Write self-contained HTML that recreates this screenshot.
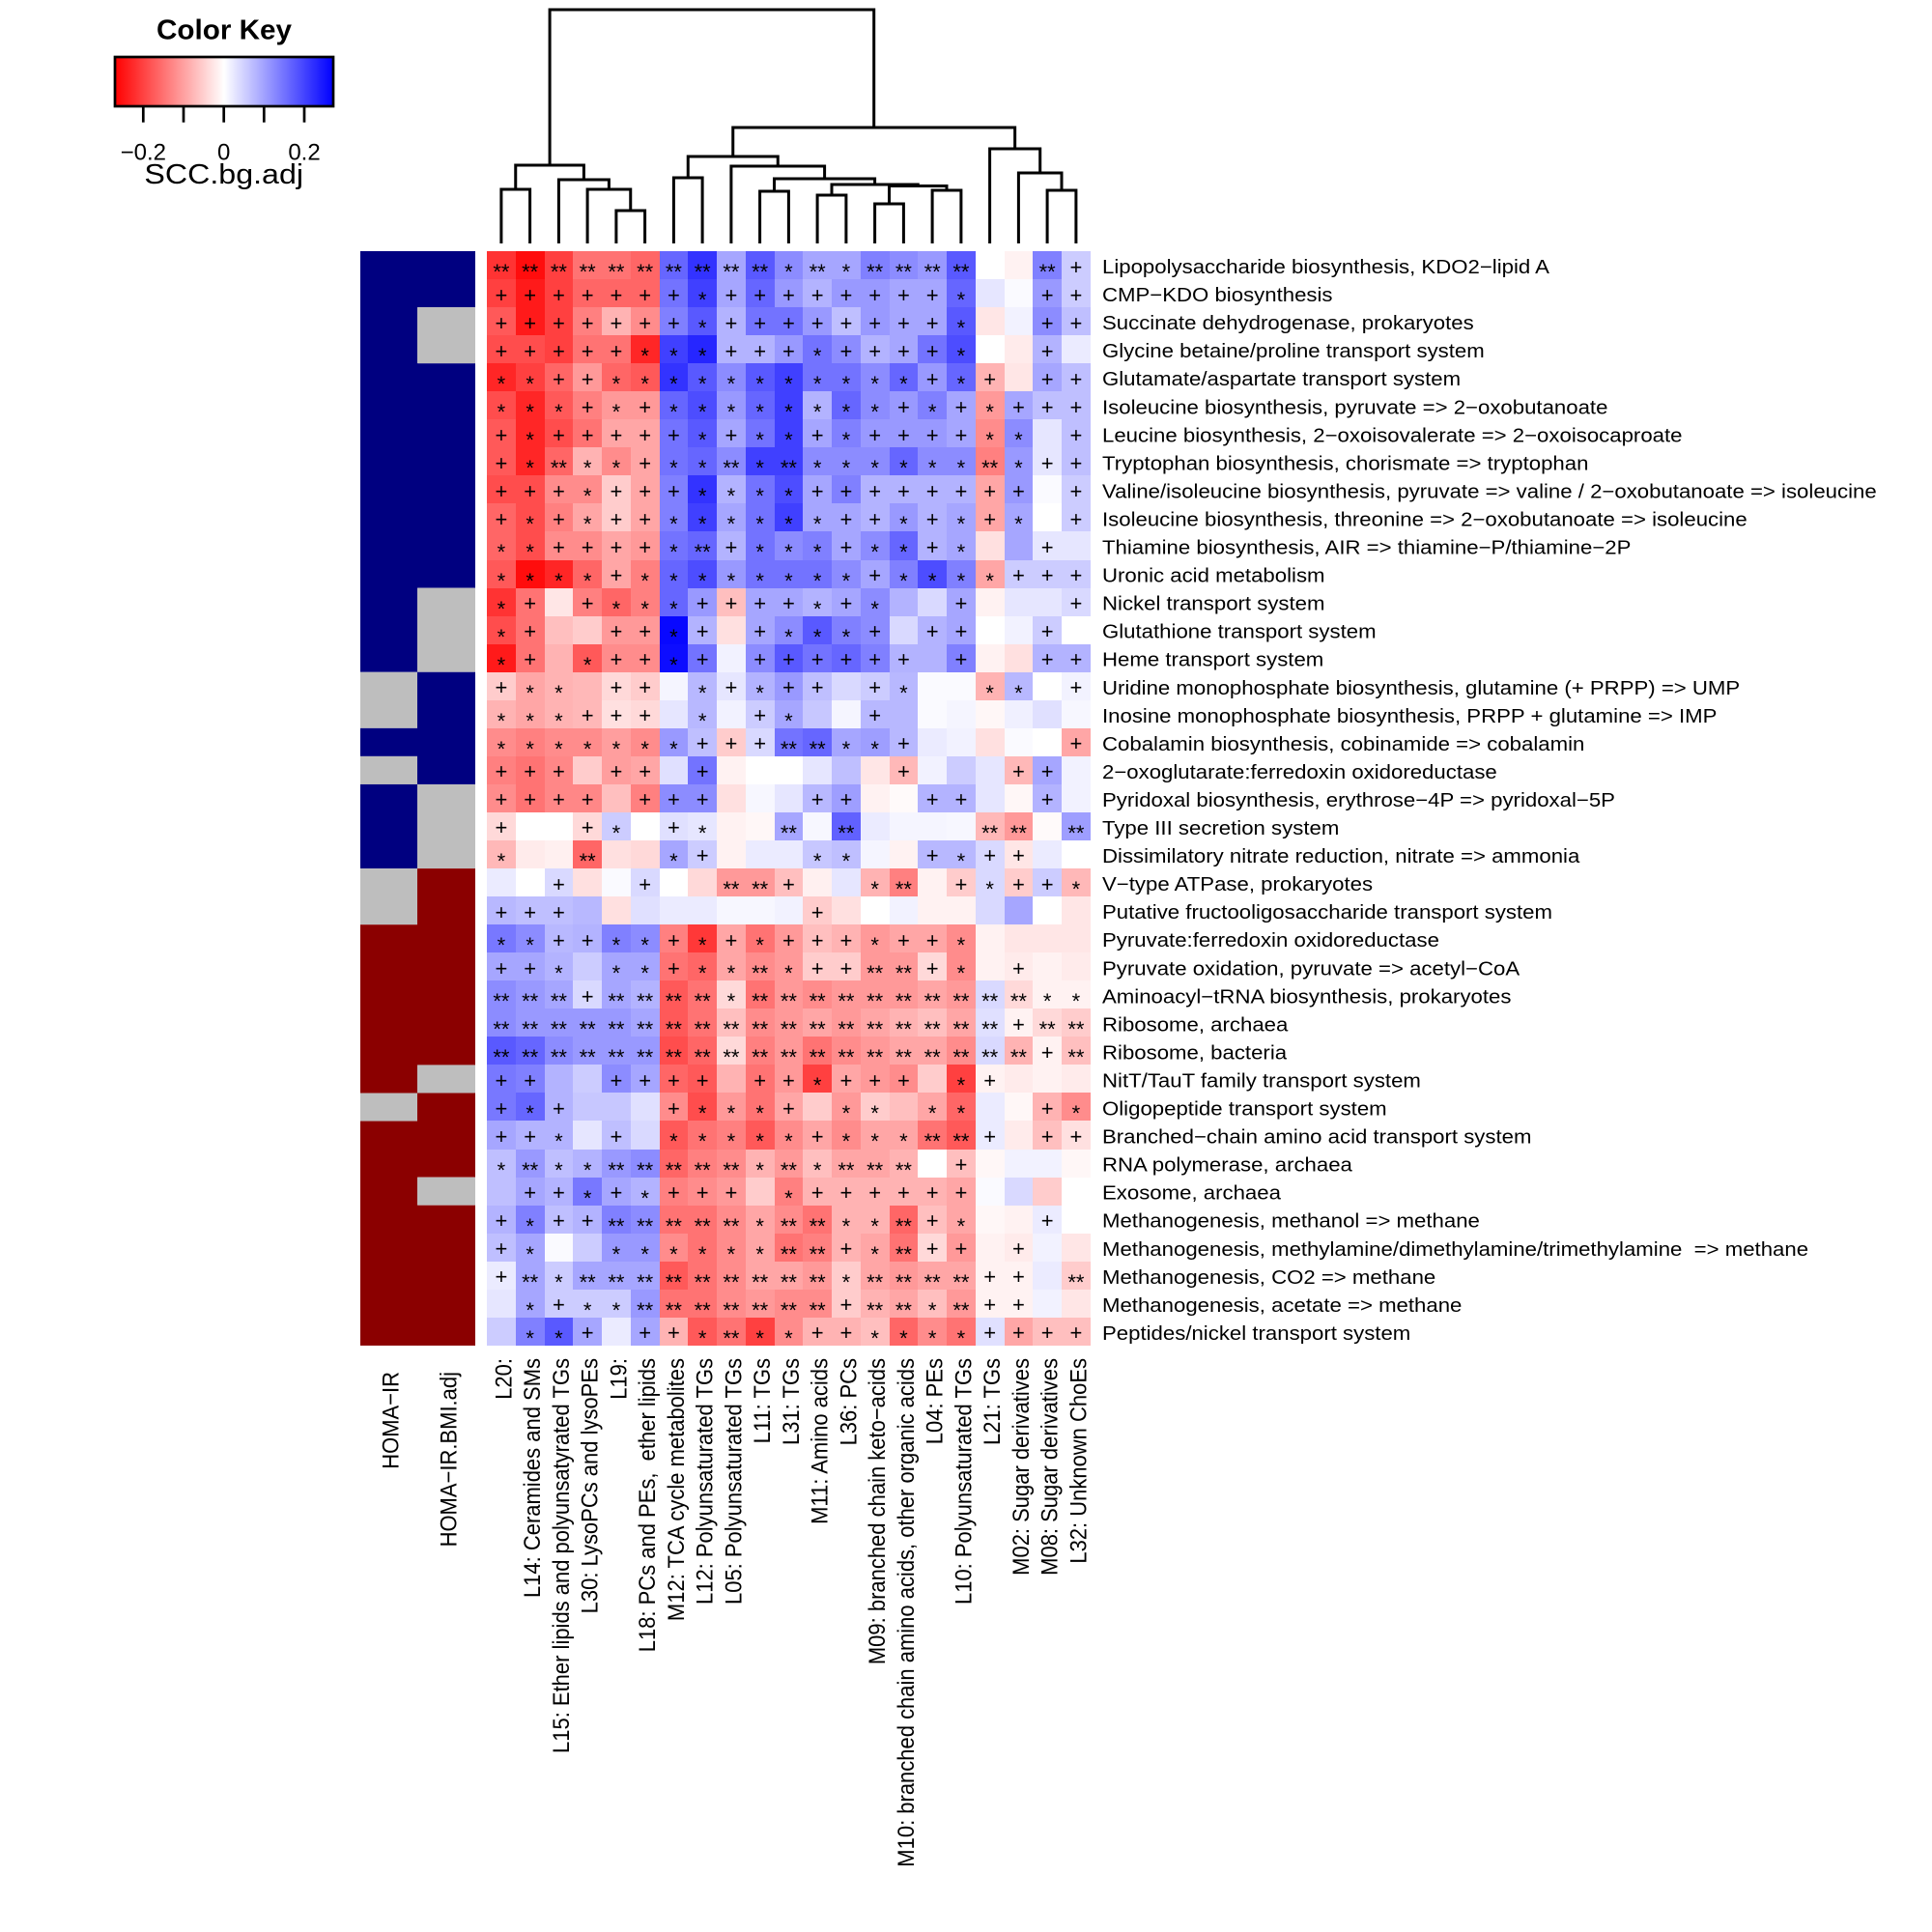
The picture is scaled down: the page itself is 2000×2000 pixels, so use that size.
<!DOCTYPE html>
<html><head><meta charset="utf-8"><style>
html,body{margin:0;padding:0;background:#fff}
#c{position:relative;width:2000px;height:2000px;overflow:hidden;background:#fff}
svg{position:absolute;left:0;top:0}
svg text{font-family:"Liberation Sans",Arial,sans-serif;fill:#000;white-space:pre}
.hm{position:absolute;left:504px;top:260px;display:grid;grid-template-columns:repeat(21,29.75px);grid-auto-rows:29.05px}
.hm b,.hm i{display:block;box-sizing:border-box;font-family:"Liberation Sans",Arial,sans-serif;font-size:22px;line-height:29.05px;font-weight:normal;font-style:normal;text-align:center;color:#000;white-space:pre;overflow:visible}
.hm b{padding-top:1.5px}
.hm i{padding-top:7px}
</style></head><body><div id="c">
<svg width="2000" height="2000" viewBox="0 0 2000 2000">
<defs><linearGradient id="g" x1="0" y1="0" x2="1" y2="0"><stop offset="0" stop-color="#ff0000"/><stop offset="0.5" stop-color="#ffffff"/><stop offset="1" stop-color="#0000ff"/></linearGradient></defs>
<!-- color key -->
<text transform="translate(232,40.7) scale(1.04,1)" text-anchor="middle" font-size="28.5" font-weight="bold">Color Key</text>
<rect x="119" y="59" width="226" height="51" fill="url(#g)" stroke="#000" stroke-width="2.7"/>
<g stroke="#000" stroke-width="2.7">
<line x1="148.3" y1="111" x2="148.3" y2="126.7"/><line x1="190" y1="111" x2="190" y2="126.7"/><line x1="231.7" y1="111" x2="231.7" y2="126.7"/><line x1="273.3" y1="111" x2="273.3" y2="126.7"/><line x1="315" y1="111" x2="315" y2="126.7"/>
</g>
<text x="148.3" y="165.7" text-anchor="middle" font-size="24">−0.2</text>
<text x="231.7" y="165.7" text-anchor="middle" font-size="24">0</text>
<text x="315" y="165.7" text-anchor="middle" font-size="24">0.2</text>
<text transform="translate(231.7,190) scale(1.11,1)" text-anchor="middle" font-size="29">SCC.bg.adj</text>
<!-- dendrogram -->
<g fill="none" stroke="#000" stroke-width="3">
<path d="M518.9 252V196H548.6V252"/>
<path d="M637.9 252V218H667.6V252"/>
<path d="M608.1 252V196H652.75V218"/>
<path d="M578.4 252V186H630.4V196"/>
<path d="M533.75 196V171H604.4V186"/>
<path d="M697.4 252V184H727.1V252"/>
<path d="M786.6 252V198H816.4V252"/>
<path d="M846.1 252V202H875.9V252"/>
<path d="M905.6 252V211H935.4V252"/>
<path d="M965.1 252V197H994.9V252"/>
<path d="M920.5 211V192.5H980V197"/>
<path d="M861 202V191H950.25V192.5"/>
<path d="M801.5 198V185H905.6V191"/>
<path d="M756.9 252V172H853.6V185"/>
<path d="M712.25 184V162H805.25V172"/>
<path d="M1084.1 252V197H1113.9V252"/>
<path d="M1054.4 252V179H1099V197"/>
<path d="M1024.6 252V154H1076.7V179"/>
<path d="M758.75 162V132H1050.65V154"/>
<path d="M569.1 171V10H904.7V132"/>
</g>
<!-- side colors -->
<g>
<rect x="373" y="260" width="59.5" height="435.75" fill="#000080"/>
<rect x="373" y="695.75" width="59.5" height="58.1" fill="#bebebe"/>
<rect x="373" y="753.85" width="59.5" height="29.05" fill="#000080"/>
<rect x="373" y="782.9" width="59.5" height="29.05" fill="#bebebe"/>
<rect x="373" y="811.95" width="59.5" height="87.15" fill="#000080"/>
<rect x="373" y="899.1" width="59.5" height="58.1" fill="#bebebe"/>
<rect x="373" y="957.2" width="59.5" height="174.3" fill="#8b0000"/>
<rect x="373" y="1131.5" width="59.5" height="29.05" fill="#bebebe"/>
<rect x="373" y="1160.55" width="59.5" height="232.4" fill="#8b0000"/>
<rect x="432" y="260" width="60" height="58.1" fill="#000080"/>
<rect x="432" y="318.1" width="60" height="58.1" fill="#bebebe"/>
<rect x="432" y="376.2" width="60" height="232.4" fill="#000080"/>
<rect x="432" y="608.6" width="60" height="87.15" fill="#bebebe"/>
<rect x="432" y="695.75" width="60" height="116.2" fill="#000080"/>
<rect x="432" y="811.95" width="60" height="87.15" fill="#bebebe"/>
<rect x="432" y="899.1" width="60" height="203.35" fill="#8b0000"/>
<rect x="432" y="1102.45" width="60" height="29.05" fill="#bebebe"/>
<rect x="432" y="1131.5" width="60" height="87.15" fill="#8b0000"/>
<rect x="432" y="1218.65" width="60" height="29.05" fill="#bebebe"/>
<rect x="432" y="1247.7" width="60" height="145.25" fill="#8b0000"/>
</g>
<!-- row labels -->
<g transform="translate(1141,0) scale(1.11,1)" font-size="20">
<text x="0" y="283">Lipopolysaccharide biosynthesis, KDO2−lipid A</text>
<text x="0" y="312.1">CMP−KDO biosynthesis</text>
<text x="0" y="341.1">Succinate dehydrogenase, prokaryotes</text>
<text x="0" y="370.2">Glycine betaine/proline transport system</text>
<text x="0" y="399.2">Glutamate/aspartate transport system</text>
<text x="0" y="428.3">Isoleucine biosynthesis, pyruvate =&gt; 2−oxobutanoate</text>
<text x="0" y="457.3">Leucine biosynthesis, 2−oxoisovalerate =&gt; 2−oxoisocaproate</text>
<text x="0" y="486.4">Tryptophan biosynthesis, chorismate =&gt; tryptophan</text>
<text x="0" y="515.4">Valine/isoleucine biosynthesis, pyruvate =&gt; valine / 2−oxobutanoate =&gt; isoleucine</text>
<text x="0" y="544.5">Isoleucine biosynthesis, threonine =&gt; 2−oxobutanoate =&gt; isoleucine</text>
<text x="0" y="573.5">Thiamine biosynthesis, AIR =&gt; thiamine−P/thiamine−2P</text>
<text x="0" y="602.6">Uronic acid metabolism</text>
<text x="0" y="631.6">Nickel transport system</text>
<text x="0" y="660.7">Glutathione transport system</text>
<text x="0" y="689.7">Heme transport system</text>
<text x="0" y="718.8">Uridine monophosphate biosynthesis, glutamine (+ PRPP) =&gt; UMP</text>
<text x="0" y="747.8">Inosine monophosphate biosynthesis, PRPP + glutamine =&gt; IMP</text>
<text x="0" y="776.9">Cobalamin biosynthesis, cobinamide =&gt; cobalamin</text>
<text x="0" y="805.9">2−oxoglutarate:ferredoxin oxidoreductase</text>
<text x="0" y="835">Pyridoxal biosynthesis, erythrose−4P =&gt; pyridoxal−5P</text>
<text x="0" y="864">Type III secretion system</text>
<text x="0" y="893.1">Dissimilatory nitrate reduction, nitrate =&gt; ammonia</text>
<text x="0" y="922.1">V−type ATPase, prokaryotes</text>
<text x="0" y="951.2">Putative fructooligosaccharide transport system</text>
<text x="0" y="980.2">Pyruvate:ferredoxin oxidoreductase</text>
<text x="0" y="1009.3">Pyruvate oxidation, pyruvate =&gt; acetyl−CoA</text>
<text x="0" y="1038.3">Aminoacyl−tRNA biosynthesis, prokaryotes</text>
<text x="0" y="1067.4">Ribosome, archaea</text>
<text x="0" y="1096.4">Ribosome, bacteria</text>
<text x="0" y="1125.5">NitT/TauT family transport system</text>
<text x="0" y="1154.5">Oligopeptide transport system</text>
<text x="0" y="1183.6">Branched−chain amino acid transport system</text>
<text x="0" y="1212.6">RNA polymerase, archaea</text>
<text x="0" y="1241.7">Exosome, archaea</text>
<text x="0" y="1270.7">Methanogenesis, methanol =&gt; methane</text>
<text x="0" y="1299.8">Methanogenesis, methylamine/dimethylamine/trimethylamine  =&gt; methane</text>
<text x="0" y="1328.8">Methanogenesis, CO2 =&gt; methane</text>
<text x="0" y="1357.9">Methanogenesis, acetate =&gt; methane</text>
<text x="0" y="1386.9">Peptides/nickel transport system</text>
</g>
<!-- column labels -->
<g font-size="22" text-anchor="end">
<text transform="translate(412.5,1420) scale(1.1,1) rotate(-90)">HOMA−IR</text>
<text transform="translate(472.5,1420) scale(1.1,1) rotate(-90)">HOMA−IR.BMI.adj</text>
<text transform="translate(529.4,1406) scale(1.1,1) rotate(-90)">L20:</text>
<text transform="translate(559.1,1406) scale(1.1,1) rotate(-90)">L14: Ceramides and SMs</text>
<text transform="translate(588.9,1406) scale(1.1,1) rotate(-90)">L15: Ether lipids and polyunsatyrated TGs</text>
<text transform="translate(618.6,1406) scale(1.1,1) rotate(-90)">L30: LysoPCs and lysoPEs</text>
<text transform="translate(648.4,1406) scale(1.1,1) rotate(-90)">L19:</text>
<text transform="translate(678.1,1406) scale(1.1,1) rotate(-90)">L18: PCs and PEs,  ether lipids</text>
<text transform="translate(707.9,1406) scale(1.1,1) rotate(-90)">M12: TCA cycle metabolites</text>
<text transform="translate(737.6,1406) scale(1.1,1) rotate(-90)">L12: Polyunsaturated TGs</text>
<text transform="translate(767.4,1406) scale(1.1,1) rotate(-90)">L05: Polyunsaturated TGs</text>
<text transform="translate(797.1,1406) scale(1.1,1) rotate(-90)">L11: TGs</text>
<text transform="translate(826.9,1406) scale(1.1,1) rotate(-90)">L31: TGs</text>
<text transform="translate(856.6,1406) scale(1.1,1) rotate(-90)">M11: Amino acids</text>
<text transform="translate(886.4,1406) scale(1.1,1) rotate(-90)">L36: PCs</text>
<text transform="translate(916.1,1406) scale(1.1,1) rotate(-90)">M09: branched chain keto−acids</text>
<text transform="translate(945.9,1406) scale(1.1,1) rotate(-90)">M10: branched chain amino acids, other organic acids</text>
<text transform="translate(975.6,1406) scale(1.1,1) rotate(-90)">L04: PEs</text>
<text transform="translate(1005.4,1406) scale(1.1,1) rotate(-90)">L10: Polyunsaturated TGs</text>
<text transform="translate(1035.1,1406) scale(1.1,1) rotate(-90)">L21: TGs</text>
<text transform="translate(1064.9,1406) scale(1.1,1) rotate(-90)">M02: Sugar derivatives</text>
<text transform="translate(1094.6,1406) scale(1.1,1) rotate(-90)">M08: Sugar derivatives</text>
<text transform="translate(1124.4,1406) scale(1.1,1) rotate(-90)">L32: Unknown ChoEs</text>
</g>
</svg>
<div class="hm">
<i style="background:#ff3333">**</i><i style="background:#ff0d0d">**</i><i style="background:#ff4040">**</i><i style="background:#ff7373">**</i><i style="background:#ff7373">**</i><i style="background:#ff6666">**</i><i style="background:#6666ff">**</i><i style="background:#3333ff">**</i><i style="background:#a6a6ff">**</i><i style="background:#5959ff">**</i><i style="background:#8c8cff">*</i><i style="background:#a6a6ff">**</i><i style="background:#a6a6ff">*</i><i style="background:#8080ff">**</i><i style="background:#8c8cff">**</i><i style="background:#9999ff">**</i><i style="background:#5959ff">**</i><b style="background:#ffffff"></b><b style="background:#fff2f2"></b><i style="background:#8080ff">**</i><b style="background:#ccccff">+</b>
<b style="background:#ff4040">+</b><b style="background:#ff1a1a">+</b><b style="background:#ff4040">+</b><b style="background:#ff6666">+</b><b style="background:#ff6666">+</b><b style="background:#ff6666">+</b><b style="background:#7373ff">+</b><i style="background:#4040ff">*</i><b style="background:#a6a6ff">+</b><b style="background:#6666ff">+</b><b style="background:#9999ff">+</b><b style="background:#b3b3ff">+</b><b style="background:#9999ff">+</b><b style="background:#9999ff">+</b><b style="background:#a6a6ff">+</b><b style="background:#a6a6ff">+</b><i style="background:#6666ff">*</i><b style="background:#e6e6ff"></b><b style="background:#fafaff"></b><b style="background:#9999ff">+</b><b style="background:#ccccff">+</b>
<b style="background:#ff5959">+</b><b style="background:#ff1a1a">+</b><b style="background:#ff4040">+</b><b style="background:#ff8080">+</b><b style="background:#ffb3b3">+</b><b style="background:#ff8c8c">+</b><b style="background:#8080ff">+</b><i style="background:#5959ff">*</i><b style="background:#b3b3ff">+</b><b style="background:#7373ff">+</b><b style="background:#7373ff">+</b><b style="background:#9999ff">+</b><b style="background:#bfbfff">+</b><b style="background:#9999ff">+</b><b style="background:#a6a6ff">+</b><b style="background:#a6a6ff">+</b><i style="background:#5959ff">*</i><b style="background:#ffe6e6"></b><b style="background:#f2f2ff"></b><b style="background:#8c8cff">+</b><b style="background:#bfbfff">+</b>
<b style="background:#ff4d4d">+</b><b style="background:#ff4d4d">+</b><b style="background:#ff4040">+</b><b style="background:#ff7373">+</b><b style="background:#ff7373">+</b><i style="background:#ff2626">*</i><i style="background:#4040ff">*</i><i style="background:#2626ff">*</i><b style="background:#b3b3ff">+</b><b style="background:#b3b3ff">+</b><b style="background:#9999ff">+</b><i style="background:#7373ff">*</i><b style="background:#8c8cff">+</b><b style="background:#b3b3ff">+</b><b style="background:#a6a6ff">+</b><b style="background:#7373ff">+</b><i style="background:#4d4dff">*</i><b style="background:#ffffff"></b><b style="background:#ffebeb"></b><b style="background:#b3b3ff">+</b><b style="background:#ebebff"></b>
<i style="background:#ff2626">*</i><i style="background:#ff4040">*</i><b style="background:#ff6666">+</b><b style="background:#ff9999">+</b><i style="background:#ff6666">*</i><i style="background:#ff5959">*</i><i style="background:#3333ff">*</i><i style="background:#5959ff">*</i><i style="background:#8c8cff">*</i><i style="background:#5959ff">*</i><i style="background:#4040ff">*</i><i style="background:#7373ff">*</i><i style="background:#7373ff">*</i><i style="background:#8c8cff">*</i><i style="background:#6666ff">*</i><b style="background:#9999ff">+</b><i style="background:#6666ff">*</i><b style="background:#ffb3b3">+</b><b style="background:#ffe6e6"></b><b style="background:#a6a6ff">+</b><b style="background:#bfbfff">+</b>
<i style="background:#ff4d4d">*</i><i style="background:#ff2626">*</i><i style="background:#ff5959">*</i><b style="background:#ff8080">+</b><i style="background:#ff9999">*</i><b style="background:#ff9999">+</b><i style="background:#6666ff">*</i><i style="background:#4d4dff">*</i><i style="background:#9999ff">*</i><i style="background:#6666ff">*</i><i style="background:#4040ff">*</i><i style="background:#b3b3ff">*</i><i style="background:#6666ff">*</i><i style="background:#8c8cff">*</i><b style="background:#9999ff">+</b><i style="background:#8080ff">*</i><b style="background:#a6a6ff">+</b><i style="background:#ff9999">*</i><b style="background:#a6a6ff">+</b><b style="background:#bfbfff">+</b><b style="background:#bfbfff">+</b>
<b style="background:#ff5959">+</b><i style="background:#ff2626">*</i><b style="background:#ff4d4d">+</b><b style="background:#ff7373">+</b><b style="background:#ffa6a6">+</b><b style="background:#ffa6a6">+</b><b style="background:#7373ff">+</b><i style="background:#5959ff">*</i><b style="background:#a6a6ff">+</b><i style="background:#7373ff">*</i><i style="background:#4040ff">*</i><b style="background:#a6a6ff">+</b><i style="background:#8080ff">*</i><b style="background:#9999ff">+</b><b style="background:#9999ff">+</b><b style="background:#9999ff">+</b><b style="background:#a6a6ff">+</b><i style="background:#ff8c8c">*</i><i style="background:#8c8cff">*</i><b style="background:#e6e6ff"></b><b style="background:#bfbfff">+</b>
<b style="background:#ff5959">+</b><i style="background:#ff2626">*</i><i style="background:#ff6666">**</i><i style="background:#ffb3b3">*</i><i style="background:#ff8c8c">*</i><b style="background:#ffa6a6">+</b><i style="background:#7373ff">*</i><i style="background:#6666ff">*</i><i style="background:#8c8cff">**</i><i style="background:#4040ff">*</i><i style="background:#4040ff">**</i><i style="background:#8c8cff">*</i><i style="background:#8c8cff">*</i><i style="background:#8c8cff">*</i><i style="background:#6666ff">*</i><i style="background:#8c8cff">*</i><i style="background:#8c8cff">*</i><i style="background:#ff8080">**</i><i style="background:#9999ff">*</i><b style="background:#e6e6ff">+</b><b style="background:#bfbfff">+</b>
<b style="background:#ff4d4d">+</b><b style="background:#ff4d4d">+</b><b style="background:#ff8c8c">+</b><i style="background:#ff8c8c">*</i><b style="background:#ffcccc">+</b><b style="background:#ffa6a6">+</b><b style="background:#8080ff">+</b><i style="background:#3333ff">*</i><i style="background:#b3b3ff">*</i><i style="background:#7373ff">*</i><i style="background:#4d4dff">*</i><b style="background:#a6a6ff">+</b><b style="background:#8080ff">+</b><b style="background:#b3b3ff">+</b><b style="background:#b3b3ff">+</b><b style="background:#b3b3ff">+</b><b style="background:#b3b3ff">+</b><b style="background:#ffa6a6">+</b><b style="background:#9999ff">+</b><b style="background:#fafaff"></b><b style="background:#ccccff">+</b>
<b style="background:#ff6666">+</b><i style="background:#ff4d4d">*</i><b style="background:#ff8080">+</b><i style="background:#ffa6a6">*</i><b style="background:#ffcccc">+</b><b style="background:#ffa6a6">+</b><i style="background:#8080ff">*</i><i style="background:#4040ff">*</i><i style="background:#a6a6ff">*</i><i style="background:#7373ff">*</i><i style="background:#4040ff">*</i><i style="background:#a6a6ff">*</i><b style="background:#a6a6ff">+</b><b style="background:#b3b3ff">+</b><i style="background:#9999ff">*</i><b style="background:#b3b3ff">+</b><i style="background:#a6a6ff">*</i><b style="background:#ffa6a6">+</b><i style="background:#a6a6ff">*</i><b style="background:#ffffff"></b><b style="background:#ccccff">+</b>
<i style="background:#ff6666">*</i><i style="background:#ff4d4d">*</i><b style="background:#ff8c8c">+</b><b style="background:#ff8c8c">+</b><b style="background:#ffa6a6">+</b><b style="background:#ff9999">+</b><i style="background:#7373ff">*</i><i style="background:#6666ff">**</i><b style="background:#b3b3ff">+</b><i style="background:#7373ff">*</i><i style="background:#8c8cff">*</i><i style="background:#8080ff">*</i><b style="background:#a6a6ff">+</b><i style="background:#8c8cff">*</i><i style="background:#6666ff">*</i><b style="background:#b3b3ff">+</b><i style="background:#a6a6ff">*</i><b style="background:#ffe0e0"></b><b style="background:#a6a6ff"></b><b style="background:#e6e6ff">+</b><b style="background:#e6e6ff"></b>
<i style="background:#ff5959">*</i><i style="background:#ff0d0d">*</i><i style="background:#ff2626">*</i><i style="background:#ff6666">*</i><b style="background:#ffa6a6">+</b><i style="background:#ff8080">*</i><i style="background:#6666ff">*</i><i style="background:#4d4dff">*</i><i style="background:#9999ff">*</i><i style="background:#7373ff">*</i><i style="background:#7373ff">*</i><i style="background:#7373ff">*</i><i style="background:#8c8cff">*</i><b style="background:#a6a6ff">+</b><i style="background:#8080ff">*</i><i style="background:#4d4dff">*</i><i style="background:#8080ff">*</i><i style="background:#ffa6a6">*</i><b style="background:#ccccff">+</b><b style="background:#ccccff">+</b><b style="background:#ccccff">+</b>
<i style="background:#ff3333">*</i><b style="background:#ff7373">+</b><b style="background:#ffe6e6"></b><b style="background:#ff8080">+</b><i style="background:#ff6666">*</i><i style="background:#ff8080">*</i><i style="background:#6666ff">*</i><b style="background:#9999ff">+</b><b style="background:#ffbfbf">+</b><b style="background:#a6a6ff">+</b><b style="background:#a6a6ff">+</b><i style="background:#b3b3ff">*</i><b style="background:#a6a6ff">+</b><i style="background:#8c8cff">*</i><b style="background:#b3b3ff"></b><b style="background:#d9d9ff"></b><b style="background:#a6a6ff">+</b><b style="background:#fff2f2"></b><b style="background:#e6e6ff"></b><b style="background:#e6e6ff"></b><b style="background:#d9d9ff">+</b>
<i style="background:#ff4d4d">*</i><b style="background:#ff7373">+</b><b style="background:#ffbfbf"></b><b style="background:#ffcccc"></b><b style="background:#ff9999">+</b><b style="background:#ff9999">+</b><i style="background:#0808ff">*</i><b style="background:#b3b3ff">+</b><b style="background:#ffe0e0"></b><b style="background:#a6a6ff">+</b><i style="background:#8c8cff">*</i><i style="background:#5959ff">*</i><i style="background:#8080ff">*</i><b style="background:#8c8cff">+</b><b style="background:#d9d9ff"></b><b style="background:#b3b3ff">+</b><b style="background:#a6a6ff">+</b><b style="background:#ffffff"></b><b style="background:#f2f2ff"></b><b style="background:#ccccff">+</b><b style="background:#ffffff"></b>
<i style="background:#ff1a1a">*</i><b style="background:#ff7373">+</b><b style="background:#ffb3b3"></b><i style="background:#ff5959">*</i><b style="background:#ff8c8c">+</b><b style="background:#ff8c8c">+</b><i style="background:#0d0dff">*</i><b style="background:#7373ff">+</b><b style="background:#f2f2ff"></b><b style="background:#8c8cff">+</b><b style="background:#5959ff">+</b><b style="background:#7373ff">+</b><b style="background:#6666ff">+</b><b style="background:#8080ff">+</b><b style="background:#b3b3ff">+</b><b style="background:#b3b3ff"></b><b style="background:#8080ff">+</b><b style="background:#fff2f2"></b><b style="background:#ffe0e0"></b><b style="background:#b3b3ff">+</b><b style="background:#b3b3ff">+</b>
<b style="background:#ffcccc">+</b><i style="background:#ffa6a6">*</i><i style="background:#ffb3b3">*</i><b style="background:#ffb8b8"></b><b style="background:#ffd9d9">+</b><b style="background:#ffcccc">+</b><b style="background:#f5f5ff"></b><i style="background:#b8b8ff">*</i><b style="background:#e6e6ff">+</b><i style="background:#b3b3ff">*</i><b style="background:#9999ff">+</b><b style="background:#bfbfff">+</b><b style="background:#d9d9ff"></b><b style="background:#ccccff">+</b><i style="background:#b8b8ff">*</i><b style="background:#fafaff"></b><b style="background:#fafaff"></b><i style="background:#ffb3b3">*</i><i style="background:#b8b8ff">*</i><b style="background:#ffffff"></b><b style="background:#f2f2ff">+</b>
<i style="background:#ffb3b3">*</i><i style="background:#ffa6a6">*</i><i style="background:#ffb3b3">*</i><b style="background:#ffb8b8">+</b><b style="background:#ffe0e0">+</b><b style="background:#ffd9d9">+</b><b style="background:#e6e6ff"></b><i style="background:#b8b8ff">*</i><b style="background:#f2f2ff"></b><b style="background:#ccccff">+</b><i style="background:#a6a6ff">*</i><b style="background:#c7c7ff"></b><b style="background:#f5f5ff"></b><b style="background:#b8b8ff">+</b><b style="background:#b8b8ff"></b><b style="background:#fafaff"></b><b style="background:#f5f5ff"></b><b style="background:#fff7f7"></b><b style="background:#f0f0ff"></b><b style="background:#e0e0ff"></b><b style="background:#f7f7ff"></b>
<i style="background:#ff8c8c">*</i><i style="background:#ff8080">*</i><i style="background:#ff8c8c">*</i><i style="background:#ff8c8c">*</i><i style="background:#ff9e9e">*</i><i style="background:#ff8c8c">*</i><i style="background:#9999ff">*</i><b style="background:#bfbfff">+</b><b style="background:#ffcccc">+</b><b style="background:#d9d9ff">+</b><i style="background:#7373ff">**</i><i style="background:#6666ff">**</i><i style="background:#a6a6ff">*</i><i style="background:#9e9eff">*</i><b style="background:#b8b8ff">+</b><b style="background:#ebebff"></b><b style="background:#f2f2ff"></b><b style="background:#ffe0e0"></b><b style="background:#fafaff"></b><b style="background:#ffffff"></b><b style="background:#ffa6a6">+</b>
<b style="background:#ff8080">+</b><b style="background:#ff7373">+</b><b style="background:#ff8787">+</b><b style="background:#ffcccc"></b><b style="background:#ff9e9e">+</b><b style="background:#ffa6a6">+</b><b style="background:#e0e0ff"></b><b style="background:#7373ff">+</b><b style="background:#fff2f2"></b><b style="background:#ffffff"></b><b style="background:#ffffff"></b><b style="background:#e6e6ff"></b><b style="background:#bfbfff"></b><b style="background:#ffe6e6"></b><b style="background:#ffb8b8">+</b><b style="background:#f2f2ff"></b><b style="background:#ccccff"></b><b style="background:#e6e6ff"></b><b style="background:#ffb8b8">+</b><b style="background:#a6a6ff">+</b><b style="background:#f2f2ff"></b>
<b style="background:#ff8c8c">+</b><b style="background:#ff7373">+</b><b style="background:#ff8787">+</b><b style="background:#ff8787">+</b><b style="background:#ffbfbf"></b><b style="background:#ff8080">+</b><b style="background:#8c8cff">+</b><b style="background:#8c8cff">+</b><b style="background:#ffe0e0"></b><b style="background:#f7f7ff"></b><b style="background:#e6e6ff"></b><b style="background:#b8b8ff">+</b><b style="background:#9e9eff">+</b><b style="background:#fff2f2"></b><b style="background:#fffafa"></b><b style="background:#b3b3ff">+</b><b style="background:#b3b3ff">+</b><b style="background:#e6e6ff"></b><b style="background:#fff7f7"></b><b style="background:#b3b3ff">+</b><b style="background:#f2f2ff"></b>
<b style="background:#ffd9d9">+</b><b style="background:#ffffff"></b><b style="background:#ffffff"></b><b style="background:#ffd9d9">+</b><i style="background:#ccccff">*</i><b style="background:#ffffff"></b><b style="background:#e0e0ff">+</b><i style="background:#e6e6ff">*</i><b style="background:#fff2f2"></b><b style="background:#fff7f7"></b><i style="background:#a6a6ff">**</i><b style="background:#f7f7ff"></b><i style="background:#6161ff">**</i><b style="background:#ebebff"></b><b style="background:#f5f5ff"></b><b style="background:#f5f5ff"></b><b style="background:#f7f7ff"></b><i style="background:#ffb8b8">**</i><i style="background:#ff9999">**</i><b style="background:#fffafa"></b><i style="background:#9e9eff">**</i>
<i style="background:#ffb8b8">*</i><b style="background:#ffebeb"></b><b style="background:#fff0f0"></b><i style="background:#ff6666">**</i><b style="background:#ffe0e0"></b><b style="background:#ffd9d9"></b><i style="background:#a6a6ff">*</i><b style="background:#ccccff">+</b><b style="background:#fff2f2"></b><b style="background:#ebebff"></b><b style="background:#ebebff"></b><i style="background:#c7c7ff">*</i><i style="background:#bfbfff">*</i><b style="background:#f5f5ff"></b><b style="background:#fff2f2"></b><b style="background:#b8b8ff">+</b><i style="background:#b8b8ff">*</i><b style="background:#d9d9ff">+</b><b style="background:#ffe6e6">+</b><b style="background:#ebebff"></b><b style="background:#ffffff"></b>
<b style="background:#ebebff"></b><b style="background:#ffffff"></b><b style="background:#d9d9ff">+</b><b style="background:#ffe0e0"></b><b style="background:#fafaff"></b><b style="background:#d9d9ff">+</b><b style="background:#ffffff"></b><b style="background:#ffd9d9"></b><i style="background:#ff9999">**</i><i style="background:#ff9999">**</i><b style="background:#ffbfbf">+</b><b style="background:#fff0f0"></b><b style="background:#e6e6ff"></b><i style="background:#ffb3b3">*</i><i style="background:#ff8080">**</i><b style="background:#fff2f2"></b><b style="background:#ffcccc">+</b><i style="background:#d9d9ff">*</i><b style="background:#ffcccc">+</b><b style="background:#ccccff">+</b><i style="background:#ffb8b8">*</i>
<b style="background:#b8b8ff">+</b><b style="background:#bfbfff">+</b><b style="background:#bfbfff">+</b><b style="background:#b8b8ff"></b><b style="background:#ffe0e0"></b><b style="background:#e0e0ff"></b><b style="background:#ebebff"></b><b style="background:#ebebff"></b><b style="background:#f7f7ff"></b><b style="background:#f7f7ff"></b><b style="background:#f2f2ff"></b><b style="background:#ffcccc">+</b><b style="background:#ffe0e0"></b><b style="background:#ffffff"></b><b style="background:#f2f2ff"></b><b style="background:#fff2f2"></b><b style="background:#fff2f2"></b><b style="background:#d9d9ff"></b><b style="background:#a6a6ff"></b><b style="background:#ffffff"></b><b style="background:#ffe6e6"></b>
<i style="background:#7878ff">*</i><i style="background:#8c8cff">*</i><b style="background:#b8b8ff">+</b><b style="background:#b3b3ff">+</b><i style="background:#8080ff">*</i><i style="background:#8c8cff">*</i><b style="background:#ff8080">+</b><i style="background:#ff3838">*</i><b style="background:#ffa6a6">+</b><i style="background:#ff7373">*</i><b style="background:#ff9999">+</b><b style="background:#ffbfbf">+</b><b style="background:#ffb3b3">+</b><i style="background:#ff9999">*</i><b style="background:#ffa6a6">+</b><b style="background:#ffa6a6">+</b><i style="background:#ff8c8c">*</i><b style="background:#fff2f2"></b><b style="background:#ffe6e6"></b><b style="background:#ffe6e6"></b><b style="background:#ffe6e6"></b>
<b style="background:#a6a6ff">+</b><b style="background:#a6a6ff">+</b><i style="background:#b3b3ff">*</i><b style="background:#ccccff"></b><i style="background:#a6a6ff">*</i><i style="background:#a6a6ff">*</i><b style="background:#ff7373">+</b><i style="background:#ff6666">*</i><i style="background:#ffa6a6">*</i><i style="background:#ff8c8c">**</i><i style="background:#ff9999">*</i><b style="background:#ffcccc">+</b><b style="background:#ffcccc">+</b><i style="background:#ff9999">**</i><i style="background:#ff9999">**</i><b style="background:#ffd9d9">+</b><i style="background:#ff8c8c">*</i><b style="background:#fff2f2"></b><b style="background:#ffebeb">+</b><b style="background:#fff2f2"></b><b style="background:#ffebeb"></b>
<i style="background:#8c8cff">**</i><i style="background:#9999ff">**</i><i style="background:#a6a6ff">**</i><b style="background:#d9d9ff">+</b><i style="background:#a6a6ff">**</i><i style="background:#b3b3ff">**</i><i style="background:#ff5959">**</i><i style="background:#ff7373">**</i><i style="background:#ffd9d9">*</i><i style="background:#ff7373">**</i><i style="background:#ff9999">**</i><i style="background:#ff8c8c">**</i><i style="background:#ff9999">**</i><i style="background:#ff9999">**</i><i style="background:#ff9999">**</i><i style="background:#ffa6a6">**</i><i style="background:#ff9999">**</i><i style="background:#d9d9ff">**</i><i style="background:#ffd9d9">**</i><i style="background:#fff2f2">*</i><i style="background:#fff2f2">*</i>
<i style="background:#8c8cff">**</i><i style="background:#9999ff">**</i><i style="background:#9999ff">**</i><i style="background:#9999ff">**</i><i style="background:#9999ff">**</i><i style="background:#a6a6ff">**</i><i style="background:#ff5959">**</i><i style="background:#ff7373">**</i><i style="background:#ffbfbf">**</i><i style="background:#ff8c8c">**</i><i style="background:#ff9999">**</i><i style="background:#ffa6a6">**</i><i style="background:#ff9999">**</i><i style="background:#ffa6a6">**</i><i style="background:#ffb3b3">**</i><i style="background:#ffbfbf">**</i><i style="background:#ffa6a6">**</i><i style="background:#e0e0ff">**</i><b style="background:#fff2f2">+</b><i style="background:#ffd9d9">**</i><i style="background:#ffcccc">**</i>
<i style="background:#5959ff">**</i><i style="background:#6666ff">**</i><i style="background:#8c8cff">**</i><i style="background:#9999ff">**</i><i style="background:#9999ff">**</i><i style="background:#9999ff">**</i><i style="background:#ff4d4d">**</i><i style="background:#ff6666">**</i><i style="background:#ffd9d9">**</i><i style="background:#ff8080">**</i><i style="background:#ff9999">**</i><i style="background:#ff7373">**</i><i style="background:#ff8c8c">**</i><i style="background:#ff9999">**</i><i style="background:#ffa6a6">**</i><i style="background:#ffa6a6">**</i><i style="background:#ff8c8c">**</i><i style="background:#d9d9ff">**</i><i style="background:#ffb3b3">**</i><b style="background:#fff2f2">+</b><i style="background:#ffbfbf">**</i>
<b style="background:#7878ff">+</b><b style="background:#8080ff">+</b><b style="background:#b3b3ff"></b><b style="background:#ccccff"></b><b style="background:#8c8cff">+</b><b style="background:#a6a6ff">+</b><b style="background:#ff6666">+</b><b style="background:#ff5959">+</b><b style="background:#ffb3b3"></b><b style="background:#ff7373">+</b><b style="background:#ff9999">+</b><i style="background:#ff4040">*</i><b style="background:#ffa6a6">+</b><b style="background:#ff9999">+</b><b style="background:#ff8c8c">+</b><b style="background:#ffcccc"></b><i style="background:#ff4040">*</i><b style="background:#fff2f2">+</b><b style="background:#ffebeb"></b><b style="background:#fff2f2"></b><b style="background:#ffebeb"></b>
<b style="background:#7878ff">+</b><i style="background:#6666ff">*</i><b style="background:#b3b3ff">+</b><b style="background:#c7c7ff"></b><b style="background:#c7c7ff"></b><b style="background:#e0e0ff"></b><b style="background:#ff8c8c">+</b><i style="background:#ff4d4d">*</i><i style="background:#ff9999">*</i><i style="background:#ff7373">*</i><b style="background:#ffa6a6">+</b><b style="background:#ffcccc"></b><i style="background:#ff9999">*</i><i style="background:#ffcccc">*</i><b style="background:#ffbfbf"></b><i style="background:#ffa6a6">*</i><i style="background:#ff6666">*</i><b style="background:#ebebff"></b><b style="background:#fff7f7"></b><b style="background:#ffb3b3">+</b><i style="background:#ff8c8c">*</i>
<b style="background:#a6a6ff">+</b><b style="background:#b3b3ff">+</b><i style="background:#b3b3ff">*</i><b style="background:#e6e6ff"></b><b style="background:#bfbfff">+</b><b style="background:#d9d9ff"></b><i style="background:#ff5959">*</i><i style="background:#ff7373">*</i><i style="background:#ff8080">*</i><i style="background:#ff5959">*</i><i style="background:#ff8c8c">*</i><b style="background:#ffa6a6">+</b><i style="background:#ff8c8c">*</i><i style="background:#ffa6a6">*</i><i style="background:#ffa6a6">*</i><i style="background:#ff7373">**</i><i style="background:#ff5959">**</i><b style="background:#ebebff">+</b><b style="background:#ffebeb"></b><b style="background:#ffbfbf">+</b><b style="background:#ffe0e0">+</b>
<i style="background:#bfbfff">*</i><i style="background:#9999ff">**</i><i style="background:#bfbfff">*</i><i style="background:#b3b3ff">*</i><i style="background:#9999ff">**</i><i style="background:#8c8cff">**</i><i style="background:#ff6666">**</i><i style="background:#ff8080">**</i><i style="background:#ff8c8c">**</i><i style="background:#ffb3b3">*</i><i style="background:#ff9999">**</i><i style="background:#ffbfbf">*</i><i style="background:#ffa6a6">**</i><i style="background:#ffa6a6">**</i><i style="background:#ffb3b3">**</i><b style="background:#ffffff"></b><b style="background:#ffbfbf">+</b><b style="background:#fff7f7"></b><b style="background:#f2f2ff"></b><b style="background:#f2f2ff"></b><b style="background:#fff7f7"></b>
<b style="background:#bfbfff"></b><b style="background:#a6a6ff">+</b><b style="background:#b3b3ff">+</b><i style="background:#7878ff">*</i><b style="background:#a6a6ff">+</b><i style="background:#b3b3ff">*</i><b style="background:#ff8080">+</b><b style="background:#ff8c8c">+</b><b style="background:#ff9999">+</b><b style="background:#ffcccc"></b><i style="background:#ff8080">*</i><b style="background:#ffb3b3">+</b><b style="background:#ffb3b3">+</b><b style="background:#ffb3b3">+</b><b style="background:#ffb3b3">+</b><b style="background:#ffb3b3">+</b><b style="background:#ffa6a6">+</b><b style="background:#fafaff"></b><b style="background:#d9d9ff"></b><b style="background:#ffcccc"></b><b style="background:#ffffff"></b>
<b style="background:#b3b3ff">+</b><i style="background:#8080ff">*</i><b style="background:#bfbfff">+</b><b style="background:#b3b3ff">+</b><i style="background:#8080ff">**</i><i style="background:#8c8cff">**</i><i style="background:#ff7373">**</i><i style="background:#ff7373">**</i><i style="background:#ff8c8c">**</i><i style="background:#ffa6a6">*</i><i style="background:#ff8c8c">**</i><i style="background:#ff7373">**</i><i style="background:#ffb3b3">*</i><i style="background:#ffb3b3">*</i><i style="background:#ff6666">**</i><b style="background:#ffbfbf">+</b><i style="background:#ffa6a6">*</i><b style="background:#fff7f7"></b><b style="background:#fff2f2"></b><b style="background:#ebebff">+</b><b style="background:#ffffff"></b>
<b style="background:#bfbfff">+</b><i style="background:#a6a6ff">*</i><b style="background:#fafaff"></b><b style="background:#ccccff"></b><i style="background:#9999ff">*</i><i style="background:#9999ff">*</i><i style="background:#ff8c8c">*</i><i style="background:#ff7373">*</i><i style="background:#ff8c8c">*</i><i style="background:#ffa6a6">*</i><i style="background:#ff7373">**</i><i style="background:#ff8080">**</i><b style="background:#ffb3b3">+</b><i style="background:#ffa6a6">*</i><i style="background:#ff7373">**</i><b style="background:#ffd9d9">+</b><b style="background:#ff9999">+</b><b style="background:#fff2f2"></b><b style="background:#ffebeb">+</b><b style="background:#f2f2ff"></b><b style="background:#ffe6e6"></b>
<b style="background:#ebebff">+</b><i style="background:#a6a6ff">**</i><i style="background:#ccccff">*</i><i style="background:#a6a6ff">**</i><i style="background:#a6a6ff">**</i><i style="background:#a6a6ff">**</i><i style="background:#ff5959">**</i><i style="background:#ff7373">**</i><i style="background:#ff8c8c">**</i><i style="background:#ffa6a6">**</i><i style="background:#ffa6a6">**</i><i style="background:#ff9999">**</i><i style="background:#ffcccc">*</i><i style="background:#ffa6a6">**</i><i style="background:#ff9999">**</i><i style="background:#ffa6a6">**</i><i style="background:#ffa6a6">**</i><b style="background:#fff2f2">+</b><b style="background:#fff2f2">+</b><b style="background:#ebebff"></b><i style="background:#ffcccc">**</i>
<b style="background:#e6e6ff"></b><i style="background:#a6a6ff">*</i><b style="background:#ccccff">+</b><i style="background:#ccccff">*</i><i style="background:#ccccff">*</i><i style="background:#9999ff">**</i><i style="background:#ff7373">**</i><i style="background:#ff7373">**</i><i style="background:#ff8c8c">**</i><i style="background:#ff9999">**</i><i style="background:#ff8c8c">**</i><i style="background:#ff8c8c">**</i><b style="background:#ffcccc">+</b><i style="background:#ffb3b3">**</i><i style="background:#ffa6a6">**</i><i style="background:#ffbfbf">*</i><i style="background:#ff9999">**</i><b style="background:#fff2f2">+</b><b style="background:#fff2f2">+</b><b style="background:#f2f2ff"></b><b style="background:#ffe6e6"></b>
<b style="background:#ccccff"></b><i style="background:#8080ff">*</i><i style="background:#5959ff">*</i><b style="background:#a6a6ff">+</b><b style="background:#ebebff"></b><b style="background:#a6a6ff">+</b><b style="background:#ffb3b3">+</b><i style="background:#ff5959">*</i><i style="background:#ff7373">**</i><i style="background:#ff4040">*</i><i style="background:#ff8c8c">*</i><b style="background:#ffb3b3">+</b><b style="background:#ffb3b3">+</b><i style="background:#ffbfbf">*</i><i style="background:#ff6666">*</i><i style="background:#ff8c8c">*</i><i style="background:#ff7373">*</i><b style="background:#e0e0ff">+</b><b style="background:#ffa6a6">+</b><b style="background:#ffbfbf">+</b><b style="background:#ffbfbf">+</b>
</div>
</div></body></html>
